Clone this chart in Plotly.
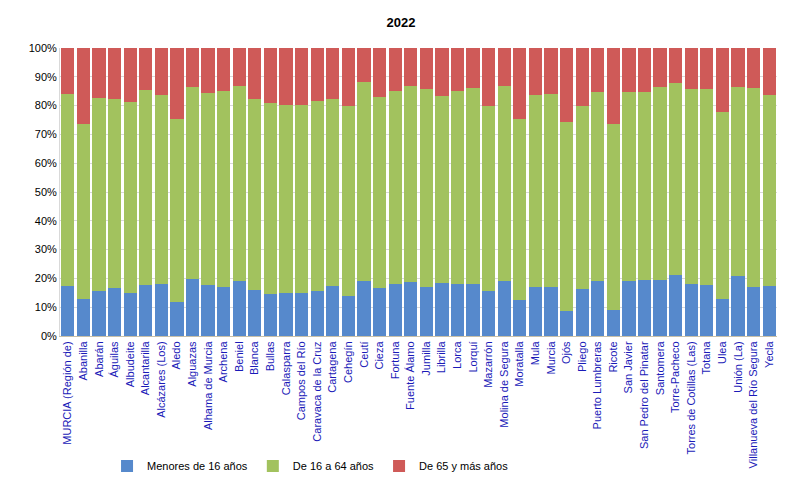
import plotly.graph_objects as go

municipios = [
    "MURCIA (Región de)", "Abanilla", "Abarán", "Águilas", "Albudeite", "Alcantarilla",
    "Alcázares (Los)", "Aledo", "Alguazas", "Alhama de Murcia", "Archena", "Beniel",
    "Blanca", "Bullas", "Calasparra", "Campos del Río", "Caravaca de la Cruz", "Cartagena",
    "Cehegín", "Ceutí", "Cieza", "Fortuna", "Fuente Álamo", "Jumilla", "Librilla", "Lorca",
    "Lorquí", "Mazarrón", "Molina de Segura", "Moratalla", "Mula", "Murcia", "Ojós",
    "Pliego", "Puerto Lumbreras", "Ricote", "San Javier", "San Pedro del Pinatar",
    "Santomera", "Torre-Pacheco", "Torres de Cotillas (Las)", "Totana", "Ulea",
    "Unión (La)", "Villanueva del Río Segura", "Yecla",
]

# porcentajes (%)
menores_16 = [
    17.4, 12.8, 15.7, 16.6, 14.8, 17.7, 18.0, 11.7, 19.9, 17.6, 17.0, 19.2,
    15.9, 14.5, 14.8, 14.9, 15.6, 17.4, 14.0, 19.1, 16.7, 18.1, 18.8, 17.0, 18.4, 18.0,
    17.9, 15.6, 19.1, 12.6, 17.0, 17.0, 8.8, 16.2, 19.1, 9.1, 19.1, 19.4,
    19.5, 21.2, 18.1, 17.7, 12.8, 20.8, 17.0, 17.3,
]
de_16_a_64 = [
    66.6, 60.7, 66.9, 65.8, 66.4, 67.6, 65.7, 63.5, 66.4, 66.9, 68.0, 67.5,
    66.3, 66.3, 65.5, 65.2, 66.1, 65.0, 65.7, 69.0, 66.4, 67.0, 67.9, 68.7, 65.0, 67.0,
    68.1, 64.3, 67.6, 62.7, 66.8, 67.0, 65.4, 63.8, 65.6, 64.4, 65.7, 65.4,
    67.1, 66.8, 67.5, 68.0, 64.9, 65.5, 69.0, 66.3,
]
de_65_y_mas = [round(100 - a - b, 1) for a, b in zip(menores_16, de_16_a_64)]

font_name = "Liberation Sans, Arial, sans-serif"

fig = go.Figure()
fig.add_trace(go.Bar(x=municipios, y=menores_16, name="Menores de 16 años",
                     marker=dict(color="#5689cc", line=dict(width=0))))
fig.add_trace(go.Bar(x=municipios, y=de_16_a_64, name="De 16 a 64 años",
                     marker=dict(color="#a2c25e", line=dict(width=0))))
fig.add_trace(go.Bar(x=municipios, y=de_65_y_mas, name="De 65 y más años",
                     marker=dict(color="#cf5a58", line=dict(width=0))))

# the page body adds an 8px margin, so the figure is a bit smaller than the window
fig.update_layout(
    barmode="stack",
    bargap=0.15,
    width=786, height=483,
    margin=dict(l=52, r=17, t=40, b=155),
    paper_bgcolor="white", plot_bgcolor="white",
    font=dict(family=font_name, size=11, color="black"),
    title=dict(text="<b>2022</b>", x=0.5, xanchor="center", y=0.971, yanchor="middle",
               font=dict(size=13, color="black")),
    showlegend=True,
    legend=dict(orientation="h", xref="container", yref="container",
                x=0.126, xanchor="left", y=0.052, yanchor="middle",
                font=dict(size=11, color="black"), traceorder="normal"),
    xaxis=dict(tickangle=-90, tickfont=dict(color="#1a1ab8", size=11),
               showline=True, linecolor="#c8c0a8", ticks="", automargin=False),
    yaxis=dict(range=[0, 100], dtick=10, ticksuffix="%", showgrid=True, gridcolor="#d9d9d9",
               showline=True, linecolor="#d9d9d9", zeroline=False, automargin=False,
               tickfont=dict(size=11, color="black")),
)

fig.write_html("out.html")
